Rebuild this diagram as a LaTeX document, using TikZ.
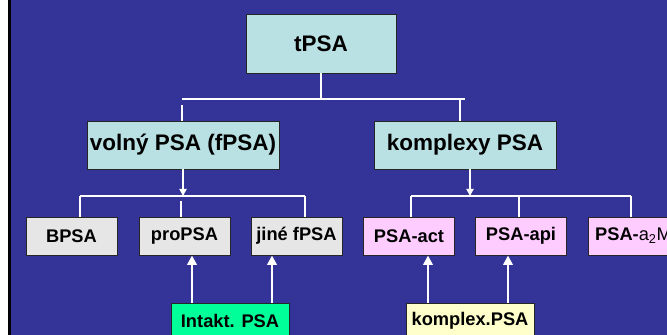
\documentclass[tikz,border=0pt]{standalone}
\usepackage{fontspec}
\setmainfont{Liberation Sans}
\usetikzlibrary{arrows.meta}

\definecolor{slideblue}{RGB}{52,52,152}
\definecolor{cyanfill}{RGB}{185,224,227}
\definecolor{greyfill}{RGB}{230,230,230}
\definecolor{pinkfill}{RGB}{255,204,255}
\definecolor{greenfill}{RGB}{0,255,153}
\definecolor{yellowfill}{RGB}{255,255,204}

\begin{document}
\begin{tikzpicture}[
    x = 0.03cm, y = -0.03cm,
    box/.style = {draw = black!85,
      line width = 0.8pt,
      inner sep = 0pt,
      minimum width = 2.73cm,
      minimum height = 1.14cm,
      font = \bfseries\fontsize{15.6}{18}\selectfont},
    bigbox/.style = {box,
      minimum height = 1.44cm,
      font = \bfseries\fontsize{19.2}{22}\selectfont},
    cyan/.style = {fill = cyanfill},
    grey/.style = {fill = greyfill},
    pink/.style = {fill = pinkfill},
    link/.style = {white, line width = 1.5pt},
    down/.style = {link, -{Triangle[width = 6pt, length = 6pt]}},
    up/.style = {white, line width = 2.5pt,
      -{Triangle[width = 8pt, length = 8pt]}},
    ]

    \useasboundingbox (0, 0) rectangle (667, 335);
    \fill [white] (0, 0) rectangle (8, 335);
    \fill [black] (8, 0) rectangle (10.5, 335);
    \fill [slideblue] (10.5, 0) rectangle (667, 335);
    \clip (0, 0) rectangle (667, 335);

    % top
    \node at (321, 43.5)
    [bigbox, cyan, minimum width = 4.5cm, minimum height = 1.77cm,
      name = tpsa] {tPSA};

    \node at (183, 145)
    [bigbox, cyan, minimum width = 5.76cm, name = volny] {volný PSA (fPSA)};
    \node at (465, 145)
    [bigbox, cyan, minimum width = 5.46cm, name = komplexy] {komplexy PSA};

    % middle row
    \node at (71.5, 236) [box, grey, name = bpsa] {BPSA};
    \node at (184.5, 236) [box, grey, name = propsa] {proPSA};
    \node at (296.5, 236) [box, grey, name = jine] {jiné fPSA};

    \node at (409, 236) [box, pink, name = act] {PSA-act};
    \node at (521, 236) [box, pink, name = api] {PSA-api};
    \node at (633.5, 236) [box, pink, name = a2m]
    {PSA-\textnormal{a\textsubscript{2}M}};

    % bottom
    \node at (230, 321)
    [box, fill = greenfill, minimum width = 3.54cm, minimum height = 1.08cm,
      name = intakt] {Intakt. PSA};
    \node at (470, 321)
    [box, fill = yellowfill, minimum width = 3.84cm, minimum height = 1.08cm,
      name = komplex] {komplex.PSA};

    % tPSA split
    \coordinate (t_l) at (182, 99);
    \coordinate (t_r) at (465, 99);
    \coordinate (t_rr) at (460, 99);
    \coordinate (t_gap) at (182, 105);
    \draw [link] (tpsa.south) -- (tpsa.south |- t_l);
    \draw [link] (t_l) -- (t_r);
    \draw [link] (t_gap) -- (t_gap |- volny.north);
    \draw [link] (t_rr) -- (t_rr |- komplexy.north);

    % fPSA split
    \coordinate (f_l) at (80, 196);
    \coordinate (f_r) at (305, 196);
    \coordinate (f_gap) at (181, 201);
    \draw [down] (volny.south) -- (volny.south |- f_l);
    \draw [link] (f_l) -- (f_r);
    \draw [link] (f_l) -- (f_l |- bpsa.north);
    \draw [link] (f_gap) -- (f_gap |- propsa.north);
    \draw [link] (f_r) -- (f_r |- jine.north);

    % komplexy split
    \coordinate (k_in) at ([xshift = 0.15cm]komplexy.south);
    \coordinate (k_l) at (411, 196);
    \coordinate (k_m) at (519, 196);
    \coordinate (k_r) at (631, 196);
    \draw [down] (k_in) -- (k_in |- k_l);
    \draw [link] (k_l) -- (k_r);
    \draw [link] (k_l) -- (k_l |- act.north);
    \draw [link] (k_m) -- (k_m |- api.north);
    \draw [link] (k_r) -- (k_r |- a2m.north);

    % up arrows
    \coordinate (i_l) at ([xshift = -1.14cm]intakt.north);
    \coordinate (i_r) at ([xshift = 1.26cm]intakt.north);
    \coordinate (c_l) at ([xshift = -1.26cm]komplex.north);
    \coordinate (c_r) at ([xshift = 1.14cm]komplex.north);
    \draw [up] (i_l) -- (i_l |- propsa.south);
    \draw [up] (i_r) -- (i_r |- jine.south);
    \draw [up] (c_l) -- (c_l |- act.south);
    \draw [up] (c_r) -- (c_r |- api.south);

  \end{tikzpicture}
\end{document}
